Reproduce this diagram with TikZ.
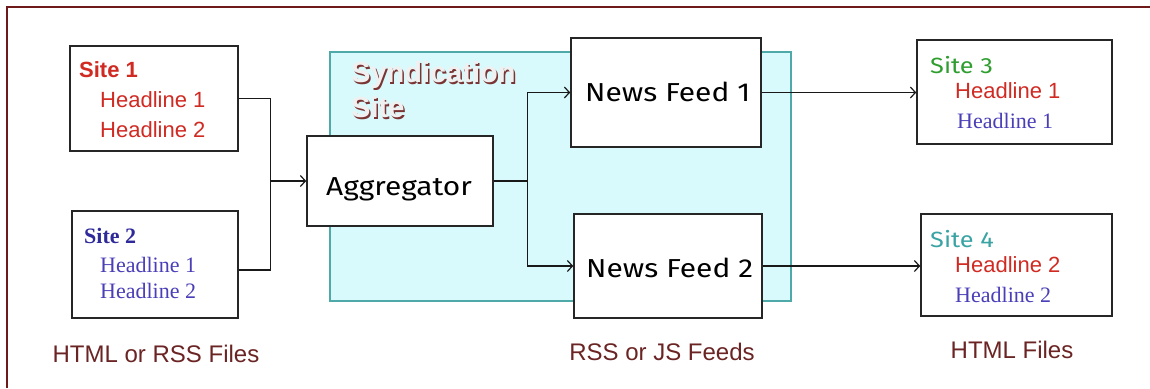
\documentclass[tikz,border=0pt]{standalone}
\usepackage{fontspec}
\setmainfont{Liberation Sans}
\newfontfamily\timesf{Liberation Serif}
\newfontfamily\handf[FakeStretch=1.15]{Fira Sans}
\usetikzlibrary{arrows.meta,calc}
\definecolor{framered}{HTML}{6E1A1A}
\definecolor{hlred}{HTML}{D02A22}
\definecolor{hlblue}{HTML}{4A3FB8}
\definecolor{sitblue}{HTML}{2E2A9A}
\definecolor{sitgreen}{HTML}{2E9E2E}
\definecolor{sitteal}{HTML}{3AA3A3}
\definecolor{cyanfill}{HTML}{D9FAFC}
\definecolor{cyanedge}{HTML}{4FA9A9}
\definecolor{labelred}{HTML}{6B2424}
\definecolor{shadowred}{HTML}{7A3434}
\tikzset{
  box/.style={draw=black!85, line width=1.6pt, fill=white, inner sep=0pt},
  conn/.style={draw=black!90, line width=1.3pt},
  arr/.style={conn, -{Straight Barb[length=5pt,width=11pt,line width=1.2pt]}},
  arialtxt/.style={font=\fontsize{22}{26}\selectfont, anchor=base west, inner sep=0pt},
  timestxt/.style={font=\timesf\fontsize{22}{26}\selectfont, anchor=base west, inner sep=0pt},
  handtxt/.style={font=\handf\fontsize{26}{30}\selectfont, anchor=base west, inner sep=0pt},
  bottomlbl/.style={font=\fontsize{24}{28}\selectfont, text=labelred, anchor=base, inner sep=0pt},
  syndfont/.style={font=\bfseries\fontsize{29}{35}\selectfont, align=left, anchor=north west, inner sep=0pt},
}
\begin{document}
\begin{tikzpicture}[x=1pt,y=-1pt]
\useasboundingbox (0,0) rectangle (1150,388);
\fill[white] (0,0) rectangle (1150,388);
% frame
\draw[framered, line width=2pt] (6.5,388) -- (6.5,6.5) -- (1150,6.5);
% syndication area
\node[draw=cyanedge, fill=cyanfill, line width=1.5pt, minimum width=461pt, minimum height=249pt, inner sep=0pt] (synd) at (560.5,176.5) {};
\node[syndfont, text=shadowred] (syndsh) at (352.5,63) {Syndication\\Site};
\node[syndfont, text=white!94!black] (syndtx) at (351,61.5) {Syndication\\Site};
% boxes
\node[box, minimum width=168pt, minimum height=105pt] (s1) at (154,98.5) {};
\node[box, minimum width=166pt, minimum height=107pt] (s2) at (155,264.5) {};
\node[box, minimum width=186pt, minimum height=90pt] (agg) at (400,181) {};
\node[box, minimum width=190pt, minimum height=109pt] (nf1) at (666,92.5) {};
\node[box, minimum width=188pt, minimum height=104pt] (nf2) at (668,266) {};
\node[box, minimum width=195pt, minimum height=104pt] (s3) at (1014.5,92) {};
\node[box, minimum width=191pt, minimum height=102pt] (s4) at (1016.5,265) {};
% box texts
\node[arialtxt, font=\bfseries\fontsize{22}{26}\selectfont, text=hlred] (s1t) at (79,77) {Site 1};
\node[arialtxt, text=hlred] (s1a) at (100,107) {Headline 1};
\node[arialtxt, text=hlred] (s1b) at (100,137) {Headline 2};
\node[timestxt, font=\timesf\bfseries\fontsize{22}{26}\selectfont, text=sitblue] (s2t) at (84,243) {Site 2};
\node[timestxt, text=hlblue] (s2a) at (100,272) {Headline 1};
\node[timestxt, text=hlblue] (s2b) at (100,298) {Headline 2};
\node[handtxt] (aggt) at (326,195) {Aggregator};
\node[handtxt] (nf1t) at (585,101) {News Feed 1};
\node[handtxt] (nf2t) at (586,277) {News Feed 2};
\node[handtxt, font=\handf\fontsize{22}{26}\selectfont, text=sitgreen] (s3t) at (930,73) {Site 3};
\node[arialtxt, text=hlred] (s3a) at (955,98) {Headline 1};
\node[timestxt, text=hlblue] (s3b) at (957,128) {Headline 1};
\node[handtxt, font=\handf\fontsize{22}{26}\selectfont, text=sitteal] (s4t) at (930,247) {Site 4};
\node[arialtxt, text=hlred] (s4a) at (955,272) {Headline 2};
\node[timestxt, text=hlblue] (s4b) at (955,302) {Headline 2};
% bottom labels
\node[bottomlbl] (l1) at (156,362) {HTML or RSS Files};
\node[bottomlbl] (l2) at (662,360) {RSS or JS Feeds};
\node[bottomlbl] (l3) at (1012,358) {HTML Files};
% connectors
\coordinate (j) at ([xshift=-36pt]agg.west);
\coordinate (k) at ([xshift=34pt]agg.east);
\draw[conn] (s1.east) -| (j);
\draw[conn] ([yshift=-5.5pt]s2.east) -| (j);
\draw[arr] (j) -- (agg.west);
\draw[conn] (agg.east) -- (k);
\draw[arr] (k) |- (nf1.west);
\draw[arr] (k) |- (nf2.west);
\draw[arr] (nf1.east) -- (nf1.east -| s3.west);
\draw[arr] (nf2.east) -- (nf2.east -| s4.west);
\end{tikzpicture}
\end{document}
